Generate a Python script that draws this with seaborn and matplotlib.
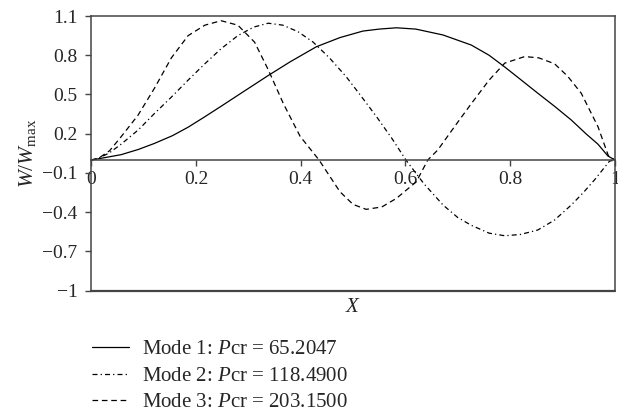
import numpy as np
import pandas as pd
import seaborn as sns
import matplotlib
matplotlib.use("Agg")
import matplotlib.pyplot as plt

# values
mode1_x = [0.0, 0.013, 0.057, 0.09, 0.12, 0.155, 0.185, 0.215, 0.248, 0.29, 0.338, 0.38, 0.43, 0.475,
           0.519, 0.55, 0.583, 0.62, 0.672, 0.726, 0.76, 0.79, 0.82, 0.853, 0.885, 0.917, 0.945,
           0.968, 0.987, 1.0]
mode1_y = [0.0, 0.008, 0.04, 0.08, 0.125, 0.185, 0.25, 0.325, 0.41, 0.52, 0.645, 0.75, 0.865, 0.935,
           0.985, 1.0, 1.01, 1.0, 0.955, 0.878, 0.80, 0.71, 0.615, 0.51, 0.41, 0.305, 0.2,
           0.12, 0.03, 0.0]

mode2_x = [0.0, 0.013, 0.035, 0.057, 0.09, 0.121, 0.153, 0.185, 0.217, 0.248, 0.28, 0.31, 0.338, 0.366,
           0.395, 0.424, 0.455, 0.487, 0.515, 0.545, 0.575, 0.601, 0.635, 0.672, 0.70, 0.726, 0.76,
           0.79, 0.82, 0.853, 0.885, 0.917, 0.94, 0.962, 0.978, 0.99, 1.0]
mode2_y = [0.0, 0.01, 0.055, 0.12, 0.23, 0.356, 0.48, 0.61, 0.735, 0.85, 0.95, 1.015, 1.045, 1.03,
           0.98, 0.90, 0.78, 0.636, 0.49, 0.33, 0.16, 0.0, -0.18, -0.345, -0.44, -0.50, -0.56,
           -0.58, -0.57, -0.536, -0.46, -0.345, -0.25, -0.15, -0.07, -0.01, 0.0]

mode3_x = [0.0, 0.013, 0.035, 0.057, 0.089, 0.121, 0.153, 0.185, 0.217, 0.248, 0.28, 0.312, 0.338,
           0.367, 0.399, 0.435, 0.475, 0.50, 0.525, 0.555, 0.583, 0.621, 0.643, 0.662, 0.695, 0.726,
           0.76, 0.79, 0.828, 0.855, 0.885, 0.91, 0.936, 0.968, 0.988, 1.0]
mode3_y = [0.0, 0.01, 0.07, 0.177, 0.34, 0.55, 0.78, 0.95, 1.03, 1.064, 1.03, 0.90, 0.69,
           0.43, 0.18, 0.0, -0.243, -0.34, -0.378, -0.36, -0.294, -0.167, 0.0, 0.076, 0.26, 0.43,
           0.61, 0.74, 0.79, 0.78, 0.735, 0.64, 0.51, 0.254, 0.03, 0.0]

mode_labels = ["Mode 1: $P$cr = 65.2047", "Mode 2: $P$cr = 118.4900", "Mode 3: $P$cr = 203.1500"]

x_ticks = [0, 0.2, 0.4, 0.6, 0.8, 1]
x_tick_labels = ["0", "0.2", "0.4", "0.6", "0.8", "1"]
y_ticks = [1.1, 0.8, 0.5, 0.2, -0.1, -0.4, -0.7, -1]
y_tick_labels = ["1.1", "0.8", "0.5", "0.2", "\u22120.1", "\u22120.4", "\u22120.7", "\u22121"]

sns.set_theme(style="white")
plt.rcParams["font.family"] = ["Liberation Serif", "DejaVu Serif"]
plt.rcParams["mathtext.fontset"] = "custom"
plt.rcParams["mathtext.rm"] = "Liberation Serif"
plt.rcParams["mathtext.it"] = "Liberation Serif:italic"
plt.rcParams["font.size"] = 14

frame_color = "#444444"
styles = [None, (4, 2.5, 1, 2.5), (4.5, 3)]

fig = plt.figure(figsize=(6.18, 4.16), dpi=100)
ax = fig.add_axes([0.1477, 0.3012, 0.847, 0.6603])

modes = [(mode1_x, mode1_y), (mode2_x, mode2_y), (mode3_x, mode3_y)]
for (xs, ys), label, dashes in zip(modes, mode_labels, styles):
    df = pd.DataFrame({"x": xs, "y": ys})
    sns.lineplot(data=df, x="x", y="y", ax=ax, color="black", linewidth=0.9,
                 label=label, sort=False, estimator=None)
    line = ax.get_lines()[-1]
    if dashes is not None:
        line.set_dashes(dashes)

ax.set_xlim(0, 1)
ax.set_ylim(-1, 1.1)

# x axis runs through zero, box closed at the bottom
ax.spines["bottom"].set_position(("data", 0))
for side in ["left", "right", "top", "bottom"]:
    ax.spines[side].set_color(frame_color)
    ax.spines[side].set_linewidth(1.1)
ax.plot([0, 1], [0, 0], transform=ax.transAxes, color=frame_color, lw=1.6, clip_on=False)

ax.set_xticks(x_ticks)
ax.set_xticklabels(x_tick_labels)
ax.set_yticks(y_ticks)
ax.set_yticklabels(y_tick_labels)
ax.tick_params(axis="both", direction="out", length=4, width=1, color=frame_color,
               labelsize=14, bottom=True, left=True)
ax.tick_params(axis="x", pad=4)
ax.tick_params(axis="y", pad=6)

ax.set_xlabel("$X$", fontsize=15)
ax.xaxis.set_label_coords(0.5, -0.025)
ax.xaxis.label.set_va("top")
ax.set_ylabel(r"$W/W_{\rm max}$", fontsize=15.5)
ax.yaxis.set_label_coords(-0.102, 0.5)

handles, labels = ax.get_legend_handles_labels()
ax.get_legend().remove()
fig.legend(handles, labels, loc="upper left", bbox_to_anchor=(0.135, 0.203), frameon=False,
           fontsize=15, handlelength=1.8, handletextpad=0.6, labelspacing=0.33, borderaxespad=0)

plt.savefig("out.png", dpi=100)
plt.close()
